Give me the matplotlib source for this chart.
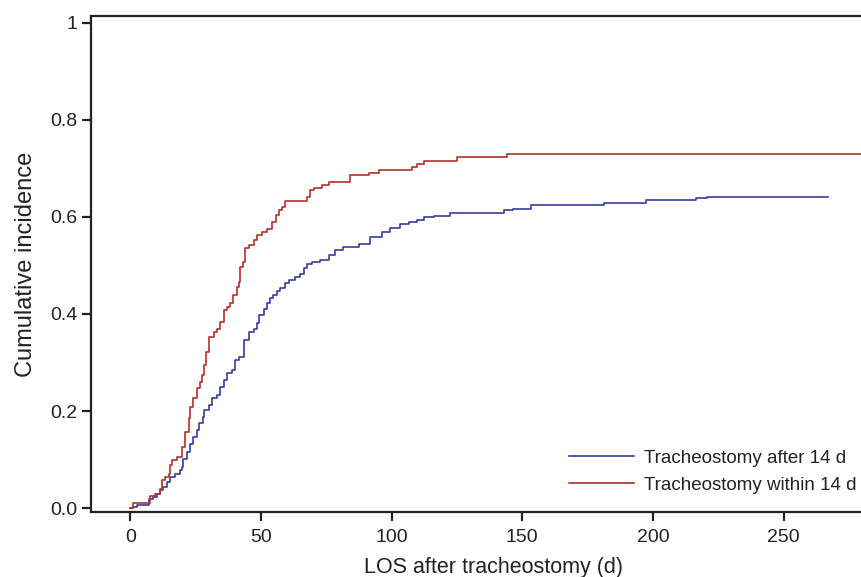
import matplotlib
matplotlib.use("Agg")
from matplotlib import pyplot as plt

# cumulative incidence, step curves
within_days = [0, 1, 7.7, 9.6, 11.5, 12.1, 13.4, 14.7, 15.3, 15.9, 17.9, 19.8, 21, 22.3,
               23, 24.2, 25.5, 26.8, 27.4, 28.3, 29.1, 30, 31.9, 33.2, 34.4, 35.7, 37,
               38.3, 39.5, 40.8, 41.5, 42.1, 43.1, 44, 45.3, 47.2, 48.5, 50.4, 52.3, 54.2,
               55.9, 56.8, 58.1, 59.3, 67.6, 68.9, 70.2, 73.4, 75.9, 84, 91.2, 95, 107.8,
               109.7, 112.3, 125, 144.2, 282]
within_ci = [0, 0.011, 0.025, 0.03, 0.04, 0.058, 0.065, 0.071, 0.089, 0.099, 0.106, 0.126,
             0.157, 0.185, 0.209, 0.226, 0.247, 0.26, 0.274, 0.295, 0.322, 0.353, 0.363,
             0.37, 0.384, 0.408, 0.415, 0.422, 0.439, 0.456, 0.466, 0.497, 0.508, 0.535,
             0.542, 0.552, 0.563, 0.569, 0.576, 0.59, 0.604, 0.614, 0.621, 0.633, 0.641,
             0.655, 0.66, 0.666, 0.671, 0.686, 0.691, 0.696, 0.702, 0.71, 0.716, 0.723,
             0.729, 0.729]

after_days = [0, 1, 2.6, 7, 8.9, 10.2, 11.5, 12.7, 14, 15.3, 17.2, 19.1, 19.8, 20.2, 21.7,
              23, 24.2, 25.5, 26.5, 27.8, 28.3, 30, 31.3, 33.2, 34.4, 35.7, 37, 38.9, 40.2,
              41.8, 43.4, 45.3, 47.2, 48.5, 49.1, 51, 52.3, 53.6, 54.8, 56.1, 57.4, 59.3,
              60.6, 63.1, 65.1, 66.3, 67.6, 69.5, 72.7, 75.9, 78.5, 81.6, 87.4, 91.8, 96.3,
              99.5, 103.3, 106.5, 109.7, 112.3, 116.1, 122.5, 143.1, 146.5, 153.3, 181.4,
              197.3, 216.5, 220.7, 266.8]
after_ci = [0, 0.003, 0.006, 0.018, 0.023, 0.03, 0.037, 0.044, 0.054, 0.065, 0.071, 0.078,
            0.085, 0.102, 0.116, 0.133, 0.147, 0.161, 0.175, 0.188, 0.202, 0.212, 0.226,
            0.233, 0.25, 0.264, 0.278, 0.284, 0.305, 0.312, 0.346, 0.363, 0.37, 0.381,
            0.398, 0.411, 0.422, 0.432, 0.439, 0.447, 0.453, 0.463, 0.47, 0.477, 0.483,
            0.494, 0.503, 0.508, 0.511, 0.522, 0.532, 0.538, 0.544, 0.558, 0.569, 0.578,
            0.585, 0.59, 0.593, 0.599, 0.602, 0.608, 0.614, 0.617, 0.624, 0.629, 0.635,
            0.638, 0.641, 0.641]

x_ticks = [0, 50, 100, 150, 200, 250]
y_ticks = [0.0, 0.2, 0.4, 0.6, 0.8, 1.0]
y_tick_labels = ["0.0", "0.2", "0.4", "0.6", "0.8", "1"]

plt.rcParams['font.family'] = ['Liberation Sans', 'DejaVu Sans']

fig = plt.figure(figsize=(8.62, 5.77), dpi=100)
ax = fig.add_axes([0.1056, 0.1127, 0.8944, 0.8596])

ax.plot(after_days, after_ci, drawstyle='steps-post', color='#363c9e', lw=1.2,
        label='Tracheostomy after 14 d')
ax.plot(within_days, within_ci, drawstyle='steps-post', color='#b3302a', lw=1.2,
        label='Tracheostomy within 14 d')

ax.set_xlim(-15, 280)
ax.set_ylim(-0.008, 1.014)
ax.set_xticks(x_ticks)
ax.set_yticks(y_ticks)
ax.set_yticklabels(y_tick_labels)
ax.tick_params(direction='out', length=6.5, width=1.6, labelsize=14, colors='#222222',
               labelcolor='#222222')
ax.tick_params(axis='x', pad=6)
ax.set_xlabel('LOS after tracheostomy (d)', fontsize=15.5, color='#222222')
ax.xaxis.set_label_coords(0.522, -0.091)
ax.set_ylabel('Cumulative incidence', fontsize=17, color='#222222', labelpad=9)

for side in ['left', 'bottom', 'top']:
    ax.spines[side].set_linewidth(1.6)
    ax.spines[side].set_color('#222222')
ax.spines['right'].set_visible(False)

ax.legend(loc='lower right', bbox_to_anchor=(1.002, 0.022), frameon=False, fontsize=13.5,
          handlelength=3.5, handletextpad=0.5, labelspacing=0.5, borderaxespad=0,
          labelcolor='#222222')

fig.savefig('out.png', dpi=100)
